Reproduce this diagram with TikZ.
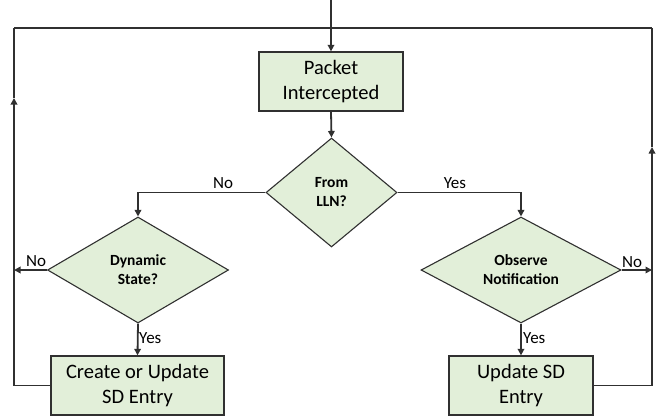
\documentclass[tikz,border=0pt]{standalone}
\usepackage{fontspec}
\setmainfont{Carlito}
\usetikzlibrary{shapes.geometric,arrows.meta}
\definecolor{boxfill}{HTML}{E2EFD9}
\definecolor{linec}{HTML}{303030}
\begin{document}
\begin{tikzpicture}[x=1pt,y=-1pt,
 procbox/.style={draw=linec,fill=boxfill,line width=1.3pt,minimum height=59pt,inner sep=0pt,align=center,font=\fontsize{20.5}{25.5}\selectfont},
 decide/.style={diamond,draw=linec,fill=boxfill,line width=1.1pt,inner sep=0pt,aspect=1.5,align=center,font=\bfseries\fontsize{15.5}{19}\selectfont},
 conn/.style={draw=linec,line width=1.8pt},
 arr/.style={conn,-{Triangle[width=6.5pt,length=6.5pt]}},
 lbl/.style={font=\fontsize{17}{19}\selectfont,inner sep=0pt}]
\useasboundingbox (0,0) rectangle (656,418);
\node[procbox,minimum width=144pt] (pkt) at (331,81.5) {Packet\\Intercepted};
\node[decide,minimum width=131pt,minimum height=109pt] (lln) at (331.5,192.5) {From\\LLN?};
\node[decide,minimum width=181pt,minimum height=106pt] (dyn) at (138,270) {Dynamic\\State?};
\node[decide,minimum width=200pt,minimum height=106pt] (obs) at (521,270) {Observe\\Notification};
\node[procbox,minimum width=173pt] (cre) at (137.5,385.5) {Create or Update\\SD Entry};
\node[procbox,minimum width=144pt] (upd) at (521,385.5) {Update SD\\Entry};
\coordinate (in) at (331,0);
\coordinate (tl) at (14,28);
\coordinate (tr) at (652,28);
\coordinate (lup) at (14,98);
\coordinate (rup) at (652,147);
\coordinate (ldyn) at (14,270);
\coordinate (robs) at (652,270);
\draw[conn] (tl) -- (tr);
\draw[arr] (in) -- (pkt.north);
\draw[arr] (pkt.south) -- (lln.north);
\draw[arr] (lln.west) -| (dyn.north);
\draw[arr] (lln.east) -| (obs.north);
\draw[arr] (dyn.south) -- (cre.north);
\draw[arr] (obs.south) -- (upd.north);
\draw[arr] (dyn.west) -- (ldyn);
\draw[arr] (obs.east) -- (robs);
\draw[arr] (cre.west) -| (lup);
\draw[conn] (lup) -- (tl);
\draw[arr] (upd.east) -| (rup);
\draw[conn] (rup) -- (tr);
\node[lbl] (l1) at (223,183) {No};
\node[lbl] (l2) at (455,183) {Yes};
\node[lbl] (l3) at (36,261) {No};
\node[lbl,anchor=west] (l4) at (139,338) {Yes};
\node[lbl] (l5) at (632,262) {No};
\node[lbl,anchor=west] (l6) at (523,338) {Yes};
\end{tikzpicture}
\end{document}
